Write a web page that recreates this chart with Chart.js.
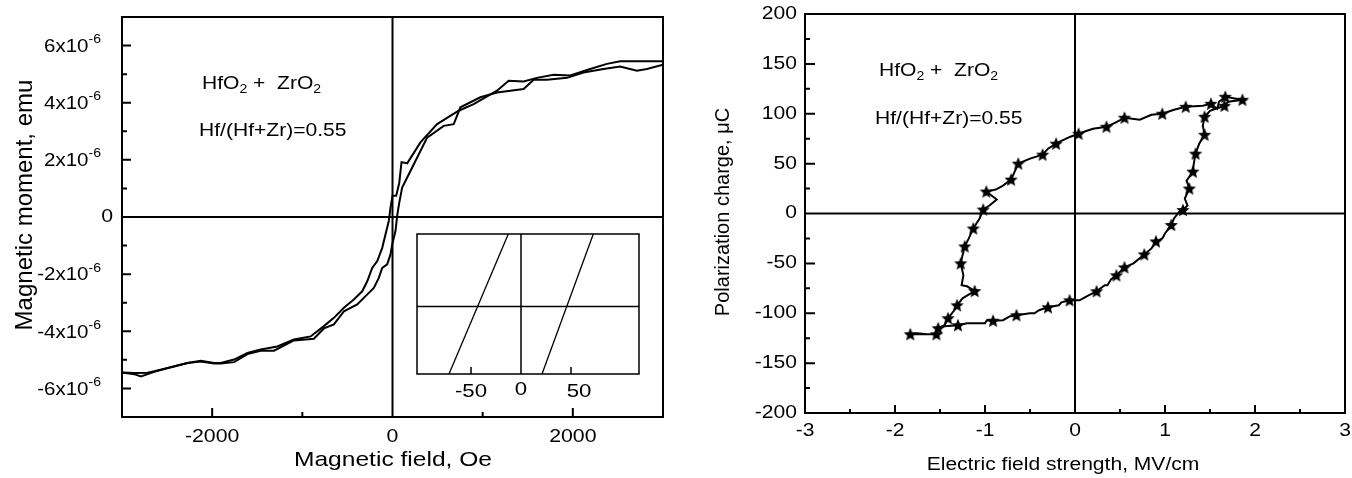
<!DOCTYPE html>
<html>
<head>
<meta charset="utf-8">
<script src="https://cdn.jsdelivr.net/npm/chart.js@4.4.1/dist/chart.umd.min.js"></script>
<style>
  html, body { margin: 0; padding: 0; background: #fff; }
  #wrap { position: relative; width: 1352px; height: 478px; overflow: hidden; }
  canvas { position: absolute; }
</style>
</head>
<body>
<div id="wrap">
  <canvas id="magChart" width="680" height="478" style="left:0;top:0"></canvas>
  <canvas id="insetChart" width="256" height="190" style="left:400px;top:224px"></canvas>
  <canvas id="polChart" width="672" height="478" style="left:680px;top:0"></canvas>
</div>
<script>
// Left panel: magnetic moment (x10^-6 emu) vs magnetic field (Oe)
const fieldDown  = [3000, 2525, 2378, 2193, 1971, 1786, 1602, 1454, 1288, 1159, 900, 734, 495, 310, 163, 100, 75, 41, 0, -22, -41, -78, -114, -169, -225, -280, -336, -429, -539, -650, -761, -908, -1093, -1277, -1462, -1609, -1757, -1905, -1979, -2126, -2274, -2459, -2643, -2716, -2865, -3000];
const momentDown = [5.45, 5.45, 5.36, 5.18, 4.95, 4.98, 4.87, 4.74, 4.77, 4.42, 3.95, 3.72, 3.25, 2.61, 1.88, 1.92, 1.2, 0.74, 0.74, 0.33, -0.14, -0.61, -1.08, -1.54, -1.78, -2.25, -2.6, -2.89, -3.18, -3.53, -3.82, -4.18, -4.29, -4.53, -4.64, -4.76, -4.99, -5.11, -5.11, -5.03, -5.11, -5.26, -5.40, -5.45, -5.46, -5.44];
const fieldUp    = [-3000, -2865, -2791, -2643, -2459, -2274, -2126, -1979, -1905, -1757, -1609, -1462, -1314, -1093, -872, -761, -650, -539, -391, -299, -207, -152, -114, -59, -22, -3, 33, 52, 75, 107, 199, 384, 568, 679, 753, 975, 1159, 1454, 1565, 1713, 1935, 2118, 2340, 2525, 2710, 2821, 3000];
const momentUp   = [-5.44, -5.50, -5.58, -5.42, -5.26, -5.11, -5.06, -5.13, -5.13, -5.08, -4.80, -4.68, -4.68, -4.32, -4.26, -3.90, -3.76, -3.30, -3.06, -2.77, -2.48, -2.13, -1.78, -1.66, -1.31, -0.96, -0.49, 0.05, 0.5, 1.03, 1.61, 2.78, 3.19, 3.25, 3.84, 4.19, 4.36, 4.48, 4.80, 4.80, 4.87, 5.06, 5.18, 5.27, 5.12, 5.18, 5.33];
const magXTicks = [-2000, 0, 2000];
const magXMinor = [-1000, 1000];
const magYTicks = [-6, -4, -2, 0, 2, 4, 6];
const magYMinor = [-5, -3, -1, 1, 3, 5];

// Inset: zoom on the loop near zero field
const insetFieldA = [-72, -12.7];
const insetFieldB = [21, 72.3];
const insetLevel  = [-0.93, 1];
const insetTicks  = [-50, 0, 50];

// Right panel: polarization charge (uC) vs electric field (MV/cm), closed loop
const loopE = [-1.83, -1.75, -1.65, -1.54, -1.52, -1.45, -1.30, -1.20, -1.05, -1.00, -0.98, -0.91, -0.80, -0.72, -0.65, -0.50, -0.45, -0.40, -0.30, -0.18, -0.15, -0.06, 0.05, 0.15, 0.24, 0.33, 0.36, 0.40, 0.46, 0.55, 0.65, 0.77, 0.85, 0.90, 0.97, 1.00, 1.07, 1.10, 1.16, 1.20, 1.25, 1.22, 1.27, 1.24, 1.31, 1.32, 1.34, 1.38, 1.44, 1.42, 1.44, 1.50, 1.66, 1.70, 1.86,
               1.67, 1.60, 1.58, 1.51, 1.42, 1.23, 1.10, 0.97, 0.85, 0.72, 0.55, 0.45, 0.35, 0.20, 0.10, 0.04, -0.05, -0.17, -0.21, -0.30, -0.36, -0.50, -0.63, -0.66, -0.71, -0.80, -0.88, -0.985, -0.87, -0.95, -1.02, -1.06, -1.13, -1.18, -1.225, -1.25, -1.27, -1.24, -1.26, -1.20, -1.115, -1.25, -1.31, -1.35, -1.41, -1.45, -1.52, -1.54, -1.70, -1.83];
const loopP = [-121, -120, -121, -121, -115, -113, -112, -110, -110, -110, -107, -107.5, -107, -103, -102, -100, -100, -97, -94, -92, -89, -87, -87, -82, -78, -72, -72, -66, -62, -54, -50, -41, -35, -28, -25, -20, -11.5, -5, 2, 3.5, 8, 15, 25, 33, 42, 50, 60, 70, 79, 88, 97, 103, 108, 112, 114,
               117, 112, 105, 110, 108, 107, 104, 100, 99, 94, 96, 91, 87, 85, 82, 80, 77, 72, 70, 65, 59, 55, 50, 44, 34, 28, 24, 22, 14, 8, 4, -5, -15, -25, -33, -42, -50, -62, -72, -73, -77.7, -85, -92, -98, -105, -112, -115, -121, -121, -121];
const loopStar = [1, 0, 0, 1, 1, 0, 1, 0, 0, 0, 0, 1, 0, 0, 1, 0, 0, 0, 1, 0, 0, 1, 0, 0, 1, 0, 0, 0, 1, 1, 0, 1, 0, 1, 0, 0, 1, 0, 0, 1, 0, 0, 1, 0, 1, 0, 1, 0, 1, 0, 1, 0, 1, 0, 1,
                  1, 0, 0, 1, 0, 1, 0, 1, 0, 0, 1, 0, 1, 0, 0, 1, 0, 0, 1, 0, 1, 0, 1, 0, 1, 0, 0, 1, 0, 0, 1, 0, 1, 0, 1, 0, 1, 0, 0, 0, 1, 0, 1, 0, 1, 0, 0, 0, 0, 0];
const polXTicks = [-3, -2, -1, 0, 1, 2, 3];
const polXMinor = [-2.5, -1.5, -0.5, 0.5, 1.5, 2.5];
const polYTicks = [-200, -150, -100, -50, 0, 50, 100, 150, 200];
const polYMinor = [-175, -125, -75, -25, 25, 75, 125, 175];

const FONT = 'Arial, "Liberation Sans", sans-serif';
const SX = 1.17; // the original figure is a bit wider than tall

function toXY(xs, ys) { return xs.map((x, i) => ({ x: x, y: ys[i] })); }

// draws a run of text pieces; piece.s = 'sub' | 'sup' | undefined
function rich(ctx, parts, x, y, size, align, sx) {
    sx = sx || SX;
    const fontOf = p => (p.s ? Math.round(size * 0.66) : size) + 'px ' + FONT;
    let w = 0;
    parts.forEach(p => { ctx.font = fontOf(p); w += ctx.measureText(p.t).width * sx; });
    let cx = align === 'center' ? x - w / 2 : align === 'right' ? x - w : x;
    ctx.save();
    ctx.fillStyle = '#000';
    ctx.textBaseline = 'middle';
    ctx.textAlign = 'left';
    parts.forEach(p => {
        ctx.font = fontOf(p);
        const dy = p.s === 'sub' ? size * 0.32 : p.s === 'sup' ? -size * 0.38 : 0;
        ctx.save();
        ctx.translate(cx, y + dy);
        ctx.scale(sx, 1);
        ctx.fillText(p.t, 0, 0);
        ctx.restore();
        cx += ctx.measureText(p.t).width * sx;
    });
    ctx.restore();
}

function vtext(ctx, s, x, y, size) {
    ctx.save();
    ctx.fillStyle = '#000';
    ctx.font = size + 'px ' + FONT;
    ctx.textAlign = 'center';
    ctx.textBaseline = 'middle';
    ctx.translate(x, y);
    ctx.rotate(-Math.PI / 2);
    ctx.fillText(s, 0, 0);
    ctx.restore();
}

const formula = [{ t: 'HfO' }, { t: '2', s: 'sub' }, { t: ' +  ZrO' }, { t: '2', s: 'sub' }];
const ratio = [{ t: 'Hf/(Hf+Zr)=0.55' }];

function framePlugin(cfg) {
    return {
        id: 'frame',
        beforeDatasetsDraw(chart) {
            const { ctx, chartArea: a, scales: { x, y } } = chart;
            ctx.save();
            ctx.strokeStyle = '#000';
            ctx.lineWidth = cfg.lw;
            ctx.beginPath();
            ctx.rect(a.left, a.top, a.right - a.left, a.bottom - a.top);
            const x0 = x.getPixelForValue(0), y0 = y.getPixelForValue(0);
            ctx.moveTo(x0, a.top); ctx.lineTo(x0, a.bottom);
            ctx.moveTo(a.left, y0); ctx.lineTo(a.right, y0);
            (cfg.xMajor || []).forEach(v => { const p = x.getPixelForValue(v); ctx.moveTo(p, a.bottom); ctx.lineTo(p, a.bottom - cfg.xLen[0]); });
            (cfg.xMinor || []).forEach(v => { const p = x.getPixelForValue(v); ctx.moveTo(p, a.bottom); ctx.lineTo(p, a.bottom - cfg.xLen[1]); });
            (cfg.yMajor || []).forEach(v => { const p = y.getPixelForValue(v); ctx.moveTo(a.left, p); ctx.lineTo(a.left + cfg.yLen[0], p); });
            (cfg.yMinor || []).forEach(v => { const p = y.getPixelForValue(v); ctx.moveTo(a.left, p); ctx.lineTo(a.left + cfg.yLen[1], p); });
            ctx.stroke();
            ctx.restore();
        },
        afterDraw(chart) { if (cfg.labels) cfg.labels(chart); }
    };
}

function baseOptions(pad, xr, yr, xH, yW) {
    const hidden = { grid: { display: false }, border: { display: false }, ticks: { display: false } };
    return {
        responsive: false,
        animation: false,
        devicePixelRatio: 1,
        layout: { padding: pad },
        plugins: { legend: { display: false }, tooltip: { enabled: false } },
        scales: {
            x: Object.assign({ type: 'linear', min: xr[0], max: xr[1], afterFit: s => { s.height = xH; } }, hidden),
            y: Object.assign({ type: 'linear', min: yr[0], max: yr[1], afterFit: s => { s.width = yW; } }, hidden)
        }
    };
}

function lineSet(data, w) {
    return { data: data, showLine: true, borderColor: '#000', borderWidth: w, pointRadius: 0, tension: 0, fill: false };
}

// ---- left: magnetization loop ----
new Chart(document.getElementById('magChart'), {
    type: 'scatter',
    data: { datasets: [lineSet(toXY(fieldDown, momentDown), 2), lineSet(toXY(fieldUp, momentUp), 2)] },
    options: baseOptions({ top: 17, right: 17, left: 0, bottom: 0 }, [-3000, 3000], [-7, 7], 61, 122),
    plugins: [framePlugin({
        lw: 2, xMajor: magXTicks, xMinor: magXMinor, yMajor: magYTicks, yMinor: magYMinor, xLen: [9, 5], yLen: [9, 5],
        labels(chart) {
            const { ctx, scales: { x, y } } = chart;
            magYTicks.forEach(v => {
                const p = y.getPixelForValue(v);
                if (v === 0) rich(ctx, [{ t: '0' }], 113, p, 19, 'right', 1.12);
                else rich(ctx, [{ t: v + 'x10' }, { t: '-6', s: 'sup' }], 101, p + 1, 19, 'right', 1.08);
            });
            magXTicks.forEach(v => rich(ctx, [{ t: String(v) }], x.getPixelForValue(v), 437, 19, 'center', 1.12));
            rich(ctx, [{ t: 'Magnetic field, Oe' }], 393, 460, 21, 'center');
            vtext(ctx, 'Magnetic moment, emu', 25, 205, 24);
            rich(ctx, formula, 202, 84, 18, 'left');
            rich(ctx, ratio, 199, 131, 18, 'left');
        }
    })]
});

// ---- inset ----
new Chart(document.getElementById('insetChart'), {
    type: 'scatter',
    data: { datasets: [lineSet(toXY(insetFieldA, insetLevel), 1.3), lineSet(toXY(insetFieldB, insetLevel), 1.3)] },
    options: baseOptions({ top: 10, right: 17, left: 0, bottom: 0 }, [-104, 118], [insetLevel[0], insetLevel[1]], 40, 17),
    plugins: [framePlugin({
        lw: 1.5, xMajor: insetTicks.filter(v => v !== 0), xLen: [7, 0],
        labels(chart) {
            const { ctx, scales: { x } } = chart;
            insetTicks.forEach(v => rich(ctx, [{ t: String(v) }], x.getPixelForValue(v) + (v > 0 ? 8 : 0), v === 0 ? 166 : 168, 19, 'center'));
        }
    })]
});

// ---- right: polarization loop ----
const starImg = (function (r) {
    const c = document.createElement('canvas');
    const s = Math.ceil(r * 2 + 2);
    c.width = s; c.height = s;
    const g = c.getContext('2d');
    g.translate(s / 2, s / 2 + 0.5);
    g.beginPath();
    for (let i = 0; i < 10; i++) {
        const rr = i % 2 ? r * 0.45 : r;
        const ang = -Math.PI / 2 + i * Math.PI / 5;
        g.lineTo(rr * Math.cos(ang), rr * Math.sin(ang));
    }
    g.closePath();
    g.fillStyle = '#000';
    g.fill();
    return c;
})(7);

const polSet = lineSet(toXY(loopE, loopP), 2);
polSet.pointStyle = c => loopStar[c.dataIndex] ? starImg : 'circle';
polSet.pointRadius = c => loopStar[c.dataIndex] ? 5 : 0;
polSet.pointBackgroundColor = '#000';
polSet.pointBorderColor = '#000';

new Chart(document.getElementById('polChart'), {
    type: 'scatter',
    data: { datasets: [polSet] },
    options: baseOptions({ top: 14, right: 6, left: 0, bottom: 0 }, [-3, 3], [-200, 200], 65, 125),
    plugins: [framePlugin({
        lw: 2, xMajor: polXTicks, xMinor: polXMinor, yMajor: polYTicks, yMinor: polYMinor, xLen: [8, 4], yLen: [10, 5],
        labels(chart) {
            const { ctx, scales: { x, y } } = chart;
            polYTicks.forEach(v => rich(ctx, [{ t: String(v) }], 117, y.getPixelForValue(v), 18, 'right'));
            polXTicks.forEach(v => rich(ctx, [{ t: String(v) }], x.getPixelForValue(v), 431, 18, 'center'));
            rich(ctx, [{ t: 'Electric field strength, MV/cm' }], 383, 465, 18, 'center');
            vtext(ctx, 'Polarization charge, \u03bcC', 43, 212, 20);
            rich(ctx, formula, 199, 71, 18, 'left');
            rich(ctx, ratio, 195, 119, 18, 'left');
        }
    })]
});
</script>
</body>
</html>
